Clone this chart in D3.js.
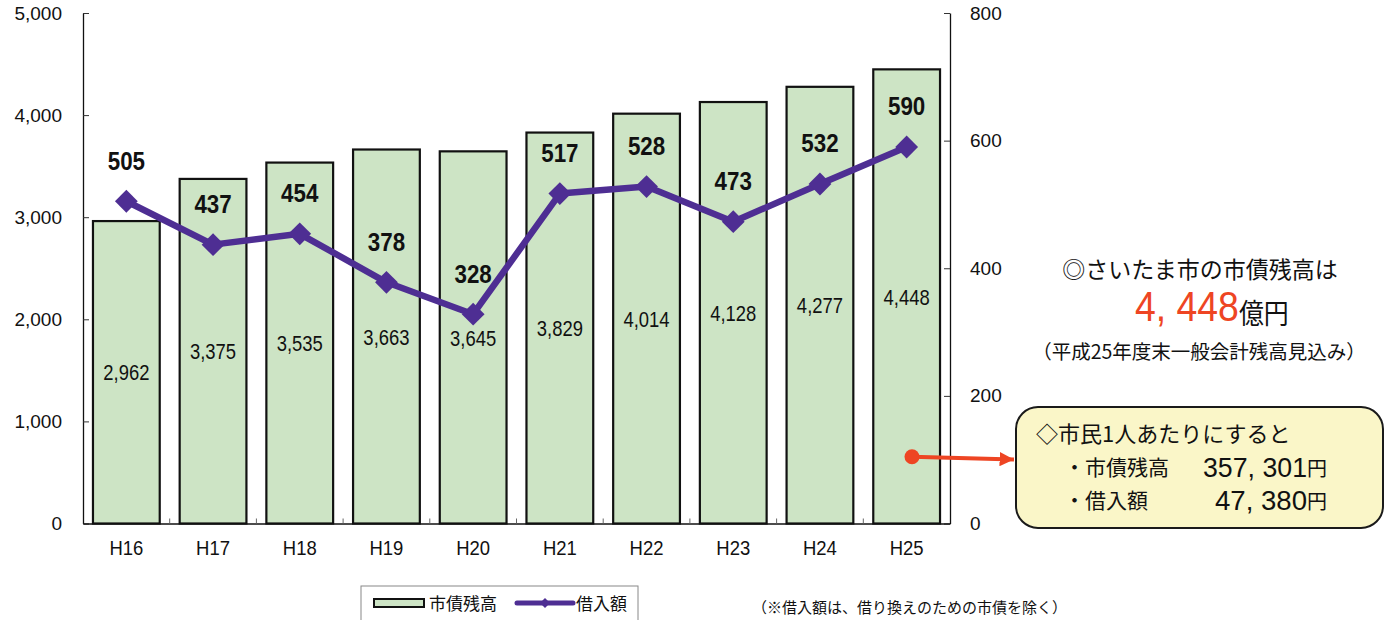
<!DOCTYPE html>
<html><head><meta charset="utf-8">
<script src="https://cdn.jsdelivr.net/npm/d3@7"></script>
<style>
body{margin:0;background:#fff;}
svg{display:block;}
</style></head>
<body>
<svg id="c" width="1390" height="620"></svg>
<script>
const categories = ["H16","H17","H18","H19","H20","H21","H22","H23","H24","H25"];
const debtBalance = [2962,3375,3535,3663,3645,3829,4014,4128,4277,4448];
const borrowing = [505,437,454,378,328,517,528,473,532,590];
const leftTicks = [0,1000,2000,3000,4000,5000];
const rightTicks = [0,200,400,600,800];
const seriesNames = ["市債残高","借入額"];
const sideTitle = "◎さいたま市の市債残高は";
const sideAmount = "4, 448";
const sideUnit = "億円";
const sideNote = "（平成25年度末一般会計残高見込み）";
const boxTitle = "◇市民1人あたりにすると";
const perCapitaLabels = ["・市債残高","・借入額"];
const perCapitaValues = ["357, 301","47, 380"];
const footnote = "（※借入額は、借り換えのための市債を除く）";

const SANS = "'Liberation Sans',Arial,sans-serif";
const JP = "'Noto Sans CJK JP','Noto Sans CJK SC',sans-serif";
const PURPLE = "#4e2e93";
const GREEN = "#cde4c5";
const RED = "#ee4523";

const svg = d3.select("#c");
const X0 = 83, X1 = 950, YT = 13, YB = 523.5;

const x = d3.scaleBand().domain(categories).range([X0, X1]).paddingInner(0.23).paddingOuter(0.115);
const yL = d3.scaleLinear().domain([0,5000]).range([YB, YT]);
const yR = d3.scaleLinear().domain([0,800]).range([YB, YT]);

function narrowText(g, px, py, sx, size, weight, anchor, txt, fill) {
  return g.append("text")
    .attr("transform", `translate(${px},${py}) scale(${sx},1)`)
    .attr("dy","0.36em").attr("text-anchor", anchor)
    .style("font-family", SANS).style("font-size", size + "px").style("font-weight", weight)
    .attr("fill", fill || "#111").text(txt);
}

// bars
svg.append("g").selectAll("rect").data(categories).join("rect")
  .attr("x", d => x(d)).attr("width", x.bandwidth())
  .attr("y", (d,i) => yL(debtBalance[i]))
  .attr("height", (d,i) => YB - yL(debtBalance[i]))
  .attr("fill", GREEN).attr("stroke", "#111").attr("stroke-width", 2.2);

// bar value labels
const gBarLab = svg.append("g");
categories.forEach((c,i) => {
  narrowText(gBarLab, x(c) + x.bandwidth()/2, (yL(debtBalance[i]) + YB)/2, 0.82, 22.5, "normal", "middle", d3.format(",")(debtBalance[i]));
});

// left axis
const axL = svg.append("g").attr("transform", `translate(${X0},0)`)
  .call(d3.axisLeft(yL).tickValues(leftTicks).tickFormat(d3.format(",")).tickSizeInner(-6).tickSizeOuter(0).tickPadding(21));
axL.select(".domain").attr("stroke","#111").attr("stroke-width",1.3);
axL.selectAll(".tick line").attr("stroke","#333");
axL.selectAll("text").style("font-family", SANS).style("font-size","19px").attr("fill","#111");

// right axis
const axR = svg.append("g").attr("transform", `translate(${X1},0)`)
  .call(d3.axisRight(yR).tickValues(rightTicks).tickSizeInner(-6).tickSizeOuter(0).tickPadding(20));
axR.select(".domain").attr("stroke","#111").attr("stroke-width",1.3);
axR.selectAll(".tick line").attr("stroke","#333");
axR.selectAll("text").style("font-family", SANS).style("font-size","19px").attr("fill","#111");

// bottom axis
const axB = svg.append("g").attr("transform", `translate(0,${YB})`)
  .call(d3.axisBottom(x).tickSize(0).tickPadding(17));
axB.select(".domain").attr("stroke","#111").attr("stroke-width",1.3);
axB.selectAll("text").style("font-family", SANS).style("font-size","21px").attr("fill","#111")
  .attr("transform","scale(0.88,1)").attr("x", 0);
// category separators
svg.append("g").selectAll("line").data(categories.slice(1)).join("line")
  .attr("x1", d => x(d) - x.step()*x.paddingInner()/2).attr("x2", d => x(d) - x.step()*x.paddingInner()/2)
  .attr("y1", YB).attr("y2", YB - 5).attr("stroke","#666").attr("stroke-width",1);

// line
const cx = d => x(d) + x.bandwidth()/2;
const line = d3.line().x((d,i) => cx(categories[i])).y(d => yR(d));
svg.append("path").datum(borrowing).attr("d", line)
  .attr("fill","none").attr("stroke", PURPLE).attr("stroke-width", 6.5).attr("stroke-linejoin","round");
const diamond = d3.symbol().type(d3.symbolSquare).size(260);
svg.append("g").selectAll("path").data(borrowing).join("path")
  .attr("transform", (d,i) => `translate(${cx(categories[i])},${yR(d)}) rotate(45)`)
  .attr("d", diamond).attr("fill", PURPLE);
const gLineLab = svg.append("g");
borrowing.forEach((v,i) => {
  narrowText(gLineLab, cx(categories[i]), yR(v) - 41, 0.86, 26, "bold", "middle", String(v));
});

// legend
const lg = svg.append("g");
lg.append("rect").attr("x",361).attr("y",586).attr("width",277).attr("height",40)
  .attr("fill","#fff").attr("stroke","#888").attr("stroke-width",1);
lg.append("rect").attr("x",374).attr("y",599).attr("width",50).attr("height",8)
  .attr("fill",GREEN).attr("stroke","#111").attr("stroke-width",2);
lg.append("text").attr("x",429).attr("y",604).attr("dy","0.36em")
  .style("font-family",JP).style("font-size","17px").attr("fill","#111").text(seriesNames[0]);
lg.append("line").attr("x1",517).attr("x2",573).attr("y1",603).attr("y2",603)
  .attr("stroke",PURPLE).attr("stroke-width",5).attr("stroke-linecap","round");
lg.append("path").attr("transform","translate(545,603) rotate(45)").attr("d", d3.symbol().type(d3.symbolSquare).size(50)).attr("fill",PURPLE);
lg.append("text").attr("x",576).attr("y",604).attr("dy","0.36em")
  .style("font-family",JP).style("font-size","17px").attr("fill","#111").text(seriesNames[1]);

// footnote
svg.append("text").attr("x",752).attr("y",608).attr("dy","0.36em")
  .style("font-family",JP).style("font-size","15px").attr("fill","#111").text(footnote);

// side summary
svg.append("text").attr("x",1200).attr("y",270).attr("dy","0.36em").attr("text-anchor","middle")
  .style("font-family",JP).style("font-size","23px").attr("fill","#111").text(sideTitle);
const amt = svg.append("text").attr("transform","translate(1135,315) scale(0.89,1)").attr("dy","0.36em");
amt.append("tspan").style("font-family",SANS).style("font-size","42px").attr("fill",RED).text(sideAmount);
amt.append("tspan").attr("dy","0.1em").style("font-family",JP).style("font-size","28px").attr("fill","#111").text(sideUnit);
svg.append("text").attr("x",1199).attr("y",352).attr("dy","0.36em").attr("text-anchor","middle")
  .style("font-family",JP).style("font-size","19.5px").attr("fill","#111").text(sideNote);

// arrow
svg.append("defs").append("marker").attr("id","ah").attr("viewBox","0 0 10 10")
  .attr("refX",10).attr("refY",5).attr("markerWidth",3.6).attr("markerHeight",3.6).attr("orient","auto")
  .append("path").attr("d","M0,0L10,5L0,10Z").attr("fill",RED);
svg.append("line").attr("x1",912).attr("y1",456.7).attr("x2",1014).attr("y2",459.5)
  .attr("stroke",RED).attr("stroke-width",4).attr("marker-end","url(#ah)");
svg.append("circle").attr("cx",912).attr("cy",456.7).attr("r",7.5).attr("fill",RED);

// box
svg.append("rect").attr("x",1016).attr("y",407).attr("width",367).attr("height",121).attr("rx",22)
  .attr("fill","#faf6c8").attr("stroke","#1a1a1a").attr("stroke-width",2);
svg.append("text").attr("x",1036).attr("y",434).attr("dy","0.36em")
  .style("font-family",JP).style("font-size","22px").attr("fill","#111").text(boxTitle);
const rowsY = [467, 500];
perCapitaLabels.forEach((lab,i) => {
  svg.append("text").attr("x",1064).attr("y",rowsY[i]).attr("dy","0.36em")
    .style("font-family",JP).style("font-size","21px").attr("fill","#111").text(lab);
  svg.append("text").attr("x",1307).attr("y",rowsY[i]).attr("dy","0.36em").attr("text-anchor","end")
    .style("font-family",SANS).style("font-size","27px").attr("fill","#111")
    .attr("textLength", i === 0 ? 104 : 92).attr("lengthAdjust","spacingAndGlyphs")
    .text(perCapitaValues[i]);
  svg.append("text").attr("x",1307).attr("y",rowsY[i]+2).attr("dy","0.36em")
    .style("font-family",JP).style("font-size","20px").attr("fill","#111").text("円");
});
</script>
</body></html>
